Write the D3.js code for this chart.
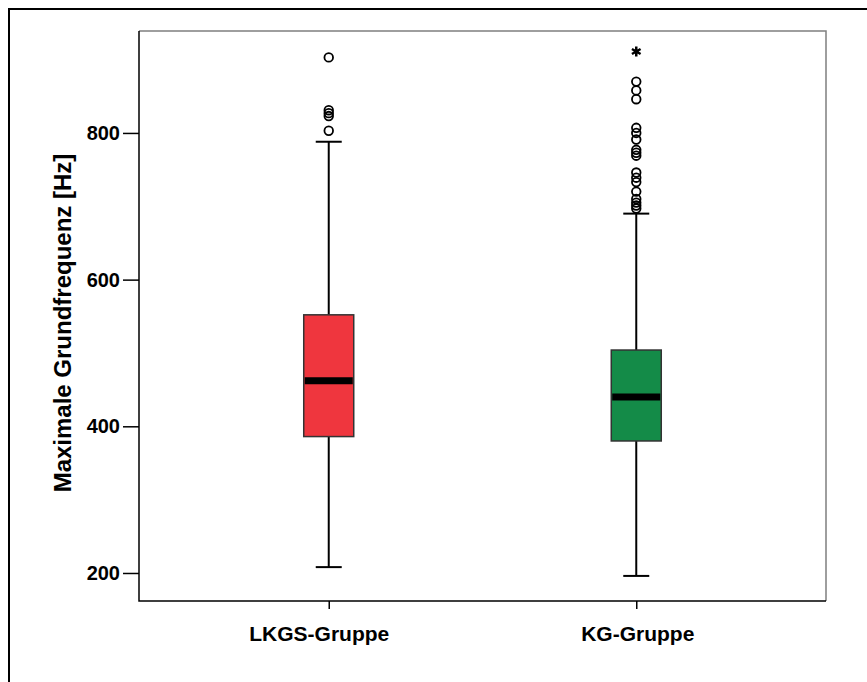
<!DOCTYPE html>
<html>
<head>
<meta charset="utf-8">
<script src="https://cdn.jsdelivr.net/npm/d3@7"></script>
<style>
  html, body { margin: 0; padding: 0; background: #fff; }
  svg { display: block; font-family: "Liberation Sans", Arial, sans-serif; }
</style>
</head>
<body>
<svg id="chart" width="867" height="682"></svg>
<script>
// Groups and their box-plot summaries (Hz)
const groups = ["LKGS-Gruppe", "KG-Gruppe"];
const colors = ["#ef363e", "#148b48"];
const q1 = [386, 380];
const medians = [462, 440];
const q3 = [552, 504];
const whiskerLow = [208, 196];
const whiskerHigh = [788, 690];
// Outliers (circles) and extreme values (asterisks)
const outliersLKGS = [903, 831, 827, 823, 803];
const outliersKG = [870, 858, 846, 807, 800, 791, 777, 773, 769, 746, 739, 733, 720, 710, 705, 701, 697];
const extremesLKGS = [];
const extremesKG = [911];
const yTicks = [200, 400, 600, 800];
const yTitle = "Maximale Grundfrequenz [Hz]";

const outliers = [outliersLKGS, outliersKG];
const extremes = [extremesLKGS, extremesKG];

const svg = d3.select("#chart");
const plot = { left: 139, top: 31, right: 826, bottom: 601 };

const y = d3.scaleLinear().domain([161.8, 939]).range([plot.bottom, plot.top]);
const x = d3.scalePoint().domain(groups).range([plot.left, plot.right]).padding(0.617);

// Outer frame (only top and left edges fall inside the view)
svg.append("path")
  .attr("d", `M9,683 V9 H868`)
  .attr("fill", "none").attr("stroke", "#000").attr("stroke-width", 2);

// Plot frame: dark left/bottom, grey top/right
svg.append("path")
  .attr("d", `M${plot.left},${plot.top} H${plot.right} V${plot.bottom}`)
  .attr("fill", "none").attr("stroke", "#7f7f7f").attr("stroke-width", 1.5);
svg.append("path")
  .attr("d", `M${plot.left},${plot.top} V${plot.bottom} H${plot.right}`)
  .attr("fill", "none").attr("stroke", "#000").attr("stroke-width", 1.5);

// Y axis
const yAxis = svg.append("g")
  .attr("transform", `translate(${plot.left},0)`)
  .call(d3.axisLeft(y).tickValues(yTicks).tickSize(16).tickPadding(3).tickFormat(d3.format("d")));
yAxis.select(".domain").remove();
yAxis.selectAll(".tick line").attr("stroke", "#000").attr("stroke-width", 1.5);
yAxis.selectAll(".tick text")
  .attr("font-size", 20).attr("font-weight", "bold").attr("fill", "#000")
  .attr("font-family", "Liberation Sans, Arial, sans-serif");

// X axis
const xAxis = svg.append("g")
  .attr("transform", `translate(0,${plot.bottom})`)
  .call(d3.axisBottom(x).tickSize(8).tickPadding(17));
xAxis.select(".domain").remove();
xAxis.selectAll(".tick line").attr("stroke", "#000").attr("stroke-width", 1.5);
xAxis.selectAll(".tick text")
  .attr("font-size", 21).attr("font-weight", "bold").attr("fill", "#000")
  .attr("font-family", "Liberation Sans, Arial, sans-serif")
  .attr("dx", (d, i) => i === 0 ? -10 : 1);

// Y axis title
svg.append("text")
  .attr("transform", `translate(71,323) rotate(-90)`)
  .attr("text-anchor", "middle")
  .attr("font-size", 24).attr("font-weight", "bold")
  .text(yTitle);

const boxW = 50, capW = 26;

groups.forEach((g, i) => {
  const cx = x(g);
  const grp = svg.append("g");
  // Whiskers
  grp.append("line").attr("x1", cx).attr("x2", cx)
    .attr("y1", y(q3[i])).attr("y2", y(whiskerHigh[i]))
    .attr("stroke", "#000").attr("stroke-width", 2);
  grp.append("line").attr("x1", cx).attr("x2", cx)
    .attr("y1", y(q1[i])).attr("y2", y(whiskerLow[i]))
    .attr("stroke", "#000").attr("stroke-width", 2);
  [whiskerHigh[i], whiskerLow[i]].forEach(v => {
    grp.append("line").attr("x1", cx - capW / 2).attr("x2", cx + capW / 2)
      .attr("y1", y(v)).attr("y2", y(v))
      .attr("stroke", "#000").attr("stroke-width", 2);
  });
  // Box
  grp.append("rect")
    .attr("x", cx - boxW / 2).attr("width", boxW)
    .attr("y", y(q3[i])).attr("height", y(q1[i]) - y(q3[i]))
    .attr("fill", colors[i]).attr("stroke", "#333").attr("stroke-width", 1.5);
  // Median
  grp.append("line").attr("x1", cx - boxW / 2 + 1).attr("x2", cx + boxW / 2 - 1)
    .attr("y1", y(medians[i])).attr("y2", y(medians[i]))
    .attr("stroke", "#000").attr("stroke-width", 7);
  // Outliers
  grp.selectAll("circle.out").data(outliers[i]).join("circle")
    .attr("class", "out")
    .attr("cx", cx).attr("cy", d => y(d)).attr("r", 4.3)
    .attr("fill", "none").attr("stroke", "#000").attr("stroke-width", 1.8);
  // Extreme values
  grp.selectAll("path.ext").data(extremes[i]).join("path")
    .attr("class", "ext")
    .attr("transform", d => `translate(${cx},${y(d)})`)
    .attr("d", d3.symbol(d3.symbolAsterisk, 70)())
    .attr("fill", "none").attr("stroke", "#000").attr("stroke-width", 2.5);
});
</script>
</body>
</html>
